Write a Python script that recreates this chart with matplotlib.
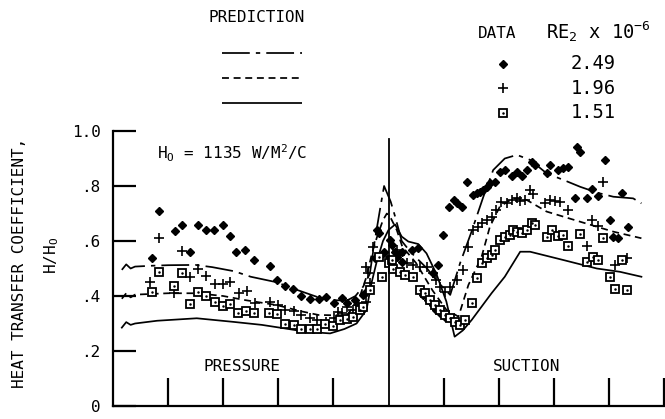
import matplotlib
matplotlib.use("Agg")
import matplotlib.pyplot as plt

# x = surface position in tick intervals (0 = pressure-side end, 5 = stagnation)
# y = H/H0
pred_249_x = [0.16, 0.24, 0.32, 0.40, 0.7, 1.0, 1.5, 1.8, 2.2, 2.5, 2.97, 3.3, 3.7, 4.0, 4.24,
              4.4, 4.54, 4.66, 4.75, 4.85, 4.92, 5.04, 5.12, 5.24, 5.4, 5.7, 5.9, 6.12, 6.3,
              6.5, 6.72, 6.9, 7.11, 7.33, 7.57, 7.87, 8.2, 8.48, 8.8, 9.08, 9.44, 9.59]
pred_249_y = [0.495, 0.515, 0.50, 0.507, 0.51, 0.512, 0.513, 0.505, 0.49, 0.47, 0.45, 0.425,
              0.397, 0.385, 0.383, 0.40, 0.434, 0.48, 0.60, 0.72, 0.80, 0.743, 0.689, 0.60,
              0.56, 0.50, 0.45, 0.404, 0.52, 0.63, 0.76, 0.858, 0.90, 0.913, 0.895, 0.846,
              0.82, 0.797, 0.775, 0.761, 0.755, 0.737]

pred_196_x = [0.16, 0.24, 0.32, 0.40, 1.0, 1.52, 2.0, 2.4, 2.97, 3.4, 3.73, 4.0, 4.24, 4.45,
              4.6, 4.7, 4.8, 4.9, 4.97, 5.05, 5.15, 5.25, 5.5, 5.8, 6.05, 6.27, 6.45, 6.69,
              6.84, 7.02, 7.26, 7.51, 7.87, 8.48, 9.08, 9.59]
pred_196_y = [0.39, 0.41, 0.395, 0.405, 0.41, 0.41, 0.40, 0.385, 0.367, 0.345, 0.331, 0.33,
              0.33, 0.38, 0.47, 0.555, 0.62, 0.676, 0.70, 0.68, 0.64, 0.58, 0.52, 0.42, 0.35,
              0.325, 0.44, 0.543, 0.652, 0.725, 0.755, 0.749, 0.707, 0.67, 0.634, 0.61]

pred_151_x = [0.16, 0.24, 0.32, 0.40, 0.8, 1.52, 2.18, 2.7, 3.09, 3.5, 3.94, 4.2, 4.42, 4.6,
              4.69, 4.78, 4.9, 5.0, 5.12, 5.24, 5.36, 5.54, 5.69, 5.87, 6.05, 6.2, 6.35, 6.51,
              6.87, 7.11, 7.39, 7.57, 8.17, 8.78, 9.2, 9.59]
pred_151_y = [0.285, 0.305, 0.295, 0.30, 0.31, 0.319, 0.306, 0.295, 0.283, 0.27, 0.264, 0.28,
              0.30, 0.349, 0.446, 0.52, 0.60, 0.64, 0.66, 0.616, 0.598, 0.589, 0.555, 0.48,
              0.38, 0.252, 0.275, 0.313, 0.41, 0.47, 0.561, 0.561, 0.531, 0.50, 0.488, 0.47]

data_249_x = [0.70, 0.83, 1.12, 1.26, 1.40, 1.54, 1.69, 1.84, 1.99, 2.13, 2.24, 2.40, 2.55,
              2.85, 2.97, 3.12, 3.27, 3.42, 3.58, 3.73, 3.86, 4.01, 4.16, 4.24, 4.39, 4.54,
              4.60, 4.75, 4.79, 4.82, 4.91, 5.03, 5.06, 5.12, 5.24, 5.42, 5.54, 5.24, 5.15,
              5.63, 5.72, 5.81, 5.87, 5.93, 6.03, 5.81, 5.90, 5.99, 6.09, 6.18, 6.24, 6.33,
              6.42, 6.54, 6.60, 6.66, 6.72, 6.78, 6.84, 6.93, 7.02, 7.11, 7.24, 7.33, 7.42,
              7.51, 7.60, 7.66, 7.87, 7.93, 8.08, 8.17, 8.26, 8.42, 8.48, 8.38, 8.60, 8.69,
              8.81, 8.93, 9.02, 9.08, 9.17, 9.23, 9.35]
data_249_y = [0.54, 0.71, 0.636, 0.66, 0.56, 0.66, 0.64, 0.64, 0.658, 0.62, 0.561, 0.567, 0.53,
              0.51, 0.46, 0.436, 0.424, 0.40, 0.388, 0.388, 0.397, 0.376, 0.394, 0.373, 0.385,
              0.404, 0.416, 0.537, 0.64, 0.628, 0.561, 0.604, 0.585, 0.561, 0.561, 0.567,
              0.573, 0.525, 0.543, 0.404, 0.385, 0.367, 0.349, 0.337, 0.325, 0.483, 0.513,
              0.622, 0.725, 0.749, 0.737, 0.725, 0.816, 0.767, 0.773, 0.779, 0.785, 0.797,
              0.81, 0.816, 0.852, 0.858, 0.836, 0.852, 0.836, 0.858, 0.888, 0.876, 0.846,
              0.876, 0.858, 0.864, 0.87, 0.943, 0.925, 0.755, 0.755, 0.79, 0.764, 0.895,
              0.676, 0.613, 0.61, 0.773, 0.652]

data_196_x = [0.68, 0.84, 1.10, 1.25, 1.40, 1.54, 1.69, 1.85, 1.99, 2.13, 2.29, 2.43, 2.58,
              2.85, 3.00, 3.13, 3.28, 3.42, 3.58, 3.71, 3.86, 4.01, 4.15, 4.09, 4.24, 4.36,
              4.45, 4.60, 4.60, 4.63, 4.66, 4.72, 4.97, 5.15, 5.21, 5.33, 5.45, 5.57, 5.69,
              5.81, 5.87, 5.93, 6.03, 6.12, 6.24, 6.36, 6.45, 6.54, 6.63, 6.69, 6.78, 6.87,
              6.96, 7.05, 7.15, 7.24, 7.33, 7.39, 7.48, 7.57, 7.63, 7.84, 7.93, 8.02, 8.11,
              8.26, 8.90, 8.69, 8.81, 8.60, 9.11, 9.32]
data_196_y = [0.45, 0.61, 0.412, 0.564, 0.47, 0.50, 0.474, 0.443, 0.443, 0.452, 0.41, 0.42,
              0.376, 0.38, 0.367, 0.35, 0.345, 0.331, 0.319, 0.313, 0.306, 0.319, 0.337, 0.343,
              0.361, 0.349, 0.367, 0.379, 0.506, 0.483, 0.446, 0.58, 0.543, 0.567, 0.549,
              0.519, 0.513, 0.506, 0.506, 0.483, 0.458, 0.434, 0.416, 0.434, 0.458, 0.495,
              0.58, 0.64, 0.652, 0.664, 0.676, 0.689, 0.713, 0.743, 0.737, 0.749, 0.755,
              0.745, 0.749, 0.785, 0.77, 0.739, 0.749, 0.745, 0.743, 0.713, 0.816, 0.676,
              0.655, 0.582, 0.513, 0.54]

data_151_x = [0.70, 0.84, 1.10, 1.25, 1.40, 1.54, 1.69, 1.85, 1.99, 2.13, 2.27, 2.42, 2.56,
              2.84, 2.98, 3.13, 3.28, 3.42, 3.58, 3.71, 3.85, 4.00, 4.12, 4.24, 4.36, 4.48,
              4.54, 4.66, 4.82, 4.88, 5.00, 5.06, 5.09, 5.21, 5.30, 5.45, 5.57, 5.66, 5.75,
              5.84, 5.93, 6.03, 6.12, 6.21, 6.30, 6.39, 6.51, 6.60, 6.69, 6.78, 6.87, 6.93,
              7.02, 7.11, 7.21, 7.26, 7.33, 7.42, 7.51, 7.60, 7.66, 7.87, 7.96, 8.08, 8.17,
              8.26, 8.48, 8.60, 8.72, 8.81, 8.90, 9.02, 9.11, 9.23, 9.32]
data_151_y = [0.416, 0.488, 0.436, 0.482, 0.371, 0.416, 0.40, 0.38, 0.364, 0.371, 0.337, 0.345,
              0.337, 0.34, 0.335, 0.298, 0.295, 0.28, 0.279, 0.279, 0.30, 0.29, 0.313, 0.315,
              0.325, 0.349, 0.36, 0.422, 0.543, 0.47, 0.519, 0.531, 0.50, 0.488, 0.476, 0.47,
              0.422, 0.41, 0.385, 0.367, 0.349, 0.331, 0.319, 0.306, 0.295, 0.313, 0.374,
              0.464, 0.519, 0.537, 0.549, 0.567, 0.604, 0.616, 0.622, 0.64, 0.634, 0.628,
              0.64, 0.664, 0.658, 0.616, 0.64, 0.618, 0.622, 0.582, 0.625, 0.525, 0.541,
              0.531, 0.61, 0.47, 0.424, 0.531, 0.422]

re_labels = ["2.49", "1.96", "1.51"]
y_ticks = [0, 0.2, 0.4, 0.6, 0.8, 1.0]
y_tick_labels = ["0", ".2", ".4", ".6", ".8", "1.0"]
x_ticks = [1, 2, 3, 4, 6, 7, 8, 9, 10]

plt.rcParams["font.family"] = "DejaVu Sans Mono"
plt.rcParams["mathtext.fontset"] = "custom"
plt.rcParams["mathtext.rm"] = "DejaVu Sans Mono"
plt.rcParams["mathtext.it"] = "DejaVu Sans Mono"
plt.rcParams["font.size"] = 11.5

W, H = 665, 419
fig = plt.figure(figsize=(W / 100, H / 100), dpi=100)
ax = fig.add_axes([113 / W, 13 / H, 551 / W, 275 / H])

dashdot = dict(color="k", lw=1.25, dashes=(16, 3.5, 2.5, 3.5))
dashed = dict(color="k", lw=1.25, dashes=(4, 2.7))
solid = dict(color="k", lw=1.25)

ax.plot(pred_249_x, pred_249_y, **dashdot)
ax.plot(pred_196_x, pred_196_y, **dashed)
ax.plot(pred_151_x, pred_151_y, **solid)

diamond = dict(ls="none", marker="D", ms=4.4, color="k")
plus = dict(ls="none", marker="+", ms=6.5, mew=1.2, color="k")
square = dict(ls="none", marker="s", ms=5.8, mfc="white", mec="k", mew=1.3)

ax.plot(data_249_x, data_249_y, **diamond)
ax.plot(data_196_x, data_196_y, **plus)
ax.plot(data_151_x, data_151_y, **square)
ax.plot(data_151_x, data_151_y, ls="none", marker=".", ms=1.6, color="k")

# stagnation point divider
ax.axvline(5, 0, 0.97, color="k", lw=1.3)

ax.set_xlim(0, 10)
ax.set_ylim(0, 1.0)
for side in ["top", "right"]:
    ax.spines[side].set_visible(False)
for side in ["left", "bottom"]:
    ax.spines[side].set_linewidth(1.6)
ax.set_xticks(x_ticks)
ax.set_xticklabels([])
ax.set_yticks(y_ticks, y_tick_labels)
ax.tick_params(axis="x", direction="in", length=20, width=1.6)
ax.tick_params(axis="y", direction="in", length=16.5, width=1.6, pad=9)

ax.text(0.8, 0.92, r"H$_\mathrm{O}$ = 1135 W/M$^2$/C", va="center")
ax.text(2.34, 0.142, "PRESSURE", ha="center", va="center")
ax.text(7.5, 0.142, "SUCTION", ha="center", va="center")

fig.text(20 / W, 1 - 263 / H, "HEAT TRANSFER COEFFICIENT,", rotation=90,
         ha="center", va="center")
fig.text(52 / W, 1 - 255 / H, r"H/H$_\mathrm{O}$", rotation=90, ha="center", va="center")

# legend: prediction line styles
fig.text(257 / W, 1 - 18 / H, "PREDICTION", ha="center", va="center")
pred_ax = fig.add_axes([222 / W, 1 - 116 / H, 80 / W, 76 / H])
for i, style in enumerate([dashdot, dashed, solid]):
    pred_ax.plot([0, 1], [i, i], **style)
pred_ax.set_xlim(0, 1)
pred_ax.set_ylim(2.5, -0.5)
pred_ax.axis("off")

# legend: data symbols
fig.text(497 / W, 1 - 33 / H, "DATA", ha="center", va="center")
fig.text(546 / W, 1 - 32 / H, r"RE$_2$ x 10$^{-6}$", ha="left", va="center", fontsize=13.5)
data_ax = fig.add_axes([480 / W, 1 - 125 / H, 180 / W, 73.5 / H])
for i, style in enumerate([diamond, plus, square]):
    data_ax.plot([0.13], [i], **style)
    data_ax.text(0.63, i, re_labels[i], va="center", ha="center", fontsize=13.5)
data_ax.plot([0.13], [2], ls="none", marker=".", ms=1.6, color="k")
data_ax.set_xlim(0, 1)
data_ax.set_ylim(2.5, -0.5)
data_ax.axis("off")

fig.savefig("out.png", dpi=100)
